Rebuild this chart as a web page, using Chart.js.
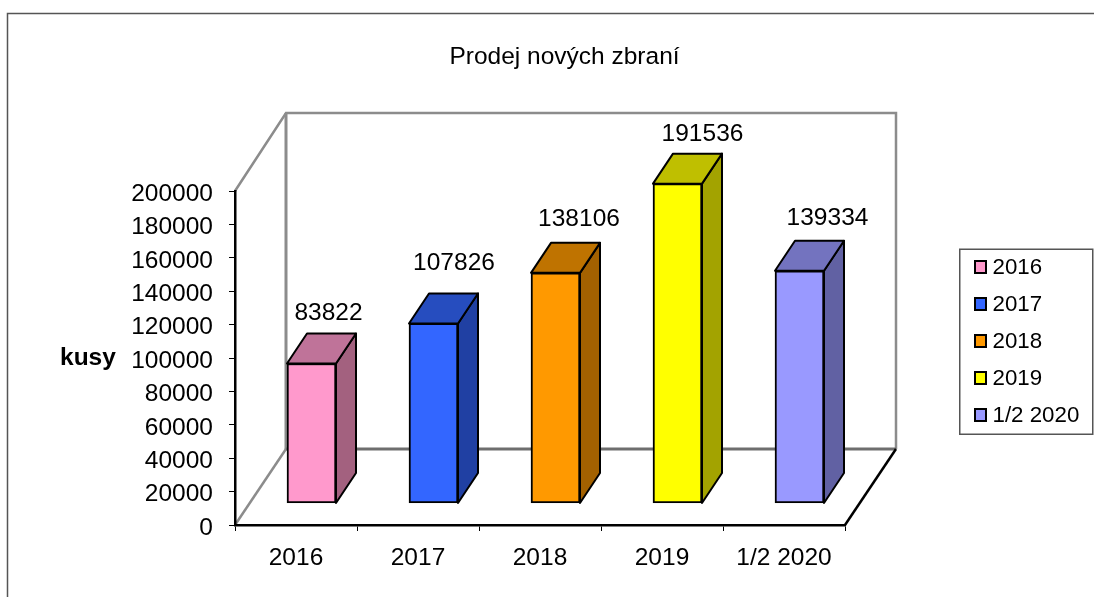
<!DOCTYPE html>
<html lang="cs">
<head>
<meta charset="utf-8">
<title>Prodej nových zbraní</title>
<script src="https://cdn.jsdelivr.net/npm/chart.js@4"></script>
<style>
  html, body { margin: 0; padding: 0; background: #fff; overflow: hidden; }
  canvas { display: block; }
</style>
</head>
<body>
<canvas id="c" width="1094" height="597"></canvas>
<script>
/* ─── DATA ────────────────────────────────────────────────── */
const categories = ['2016', '2017', '2018', '2019', '1/2 2020'];
const sales      = [83822, 107826, 138106, 191536, 139334];
const frontCols  = ['#FF99CC', '#3366FF', '#FF9900', '#FFFF00', '#9999FF'];
const topCols    = ['#BF7399', '#264DBF', '#BF7300', '#BFBF00', '#7373BF'];
const sideCols   = ['#A3617F', '#2040A3', '#A36100', '#A3A300', '#6161A3'];

/* ─── 3D GEOMETRY ─────────────────────────────────────────── */
const WALL  = { dx: 51, dy: -76, dyTop: -78 };  // floor depth, front edge to back wall
const BAR   = { dx: 15.5, dy: -21.5 };          // where the bar front sits on the floor
const DEPTH = { dx: 20, dy: -30 };              // depth of one bar
// the value labels were placed by hand in the original
const labelShiftX = [17, 20.5, 23.5, 25, 28];
const labelShiftY = [-29.5, -39.5, -32.5, -28.5, -31.5];

const FONT = '"Liberation Sans", Arial, sans-serif';
const FONT_SIZE = 24.5;

function poly(ctx, pts, fill, stroke, width) {
  ctx.beginPath();
  pts.forEach((p, i) => i ? ctx.lineTo(p[0], p[1]) : ctx.moveTo(p[0], p[1]));
  if (fill) { ctx.closePath(); ctx.fillStyle = fill; ctx.fill(); }
  if (stroke) { ctx.strokeStyle = stroke; ctx.lineWidth = width; ctx.stroke(); }
}

const threeD = {
  id: 'threeD',
  beforeDraw(chart) {
    const ctx = chart.ctx;
    const l = chart.scales.x.left, r = chart.scales.x.right;
    const y0 = chart.scales.y.getPixelForValue(0);
    const yTop = chart.scales.y.getPixelForValue(200000);
    const bx0 = l + WALL.dx, bx1 = r + WALL.dx, by0 = y0 + WALL.dy, by1 = yTop + WALL.dyTop;
    ctx.save();
    ctx.lineJoin = 'miter';
    // page frame, only top and left are in the picture
    poly(ctx, [[7.5, 597], [7.5, 13.5], [1094, 13.5]], null, '#555', 1.5);
    // walls
    poly(ctx, [[l, yTop], [bx0, by1], [bx1, by1], [bx1, by0]], null, '#8c8c8c', 2.5);
    poly(ctx, [[bx0, by1], [bx0, by0]], null, '#8c8c8c', 3);
    poly(ctx, [[l, y0], [bx0, by0]], null, '#8c8c8c', 2.5);
    poly(ctx, [[bx0, by0], [bx1, by0]], null, '#6e6e6e', 3);
    // floor edge on the right
    poly(ctx, [[r, y0], [bx1, by0]], null, '#000', 2.5);
    ctx.restore();
  },
  beforeDatasetsDraw(chart) {
    const ctx = chart.ctx;
    const bars = chart.getDatasetMeta(0).data;
    ctx.save();
    ctx.translate(BAR.dx, BAR.dy);
    ctx.lineJoin = 'round';
    bars.forEach((b, i) => {
      const x0 = b.x - b.width / 2, x1 = b.x + b.width / 2;
      poly(ctx, [[x1, b.y], [x1 + DEPTH.dx, b.y + DEPTH.dy], [x1 + DEPTH.dx, b.base + DEPTH.dy], [x1, b.base]], sideCols[i], '#000', 2);
      poly(ctx, [[x0, b.y], [x0 + DEPTH.dx, b.y + DEPTH.dy], [x1 + DEPTH.dx, b.y + DEPTH.dy], [x1, b.y]], topCols[i], '#000', 2);
    });
    // the library draws the front faces inside this translate
  },
  afterDatasetsDraw(chart) {
    const ctx = chart.ctx;
    ctx.restore();
    const bars = chart.getDatasetMeta(0).data;
    ctx.save();
    ctx.fillStyle = '#000';
    ctx.textAlign = 'center';
    ctx.textBaseline = 'middle';
    ctx.font = FONT_SIZE + 'px ' + FONT;
    bars.forEach((b, i) => {
      ctx.fillText(String(sales[i]), b.x + BAR.dx + labelShiftX[i], b.y + BAR.dy + DEPTH.dy + labelShiftY[i] + 9);
    });
    // axis caption stays horizontal here, scale titles can't do that
    ctx.font = 'bold ' + FONT_SIZE + 'px ' + FONT;
    ctx.textAlign = 'left';
    ctx.fillText('kusy', 60, chart.scales.y.getPixelForValue(100000));
    drawLegend(ctx);
    ctx.restore();
  },
};

/* ─── LEGEND ──────────────────────────────────────────────── */
function drawLegend(ctx) {
  ctx.strokeStyle = '#555';
  ctx.lineWidth = 1.5;
  ctx.strokeRect(959.75, 249.25, 133, 185);
  ctx.font = '22.3px ' + FONT;
  ctx.textAlign = 'left';
  ctx.textBaseline = 'middle';
  categories.forEach((name, i) => {
    const cy = 267 + i * 37;
    ctx.fillStyle = frontCols[i];
    ctx.strokeStyle = '#000';
    ctx.lineWidth = 2;
    ctx.fillRect(975, cy - 6, 11, 12);
    ctx.strokeRect(975, cy - 6, 11, 12);
    ctx.fillStyle = '#000';
    ctx.fillText(name, 992.5, cy + 1);
  });
}

/* ─── CHART ───────────────────────────────────────────────── */
Chart.defaults.font.family = FONT;
Chart.defaults.color = '#000';

new Chart(document.getElementById('c'), {
  type: 'bar',
  plugins: [threeD],
  data: {
    labels: categories,
    datasets: [{
      data: sales,
      backgroundColor: frontCols,
      borderColor: '#000',
      borderWidth: 2,
      borderSkipped: false,
      barThickness: 49,
    }],
  },
  options: {
    responsive: false,
    animation: false,
    layout: { padding: { left: 35, right: 0, top: 0, bottom: 0 } },
    plugins: {
      legend: { display: false },
      tooltip: { enabled: false },
      title: {
        display: true,
        text: 'Prodej nových zbraní',
        color: '#000',
        font: { size: FONT_SIZE, weight: 'normal' },
        padding: { top: 43, bottom: 118.6 },
      },
    },
    scales: {
      x: {
        afterFit: s => { s.height = 72; s.paddingRight = 249; },
        grid: { offset: true, drawOnChartArea: false, drawTicks: true, tickLength: 6, color: '#000', lineWidth: 1 },
        border: { color: '#000', width: 2.5 },
        ticks: { font: { size: FONT_SIZE }, padding: 13, maxRotation: 0, autoSkip: false },
      },
      y: {
        min: 0,
        max: 200000,
        afterFit: s => { s.width = 200; },
        grid: { drawOnChartArea: false, drawTicks: true, tickLength: 6, color: '#000', lineWidth: 1 },
        border: { color: '#000', width: 2.5 },
        ticks: { stepSize: 20000, font: { size: FONT_SIZE }, padding: 16, labelOffset: 3, callback: v => String(v) },
      },
    },
  },
});
</script>
</body>
</html>
